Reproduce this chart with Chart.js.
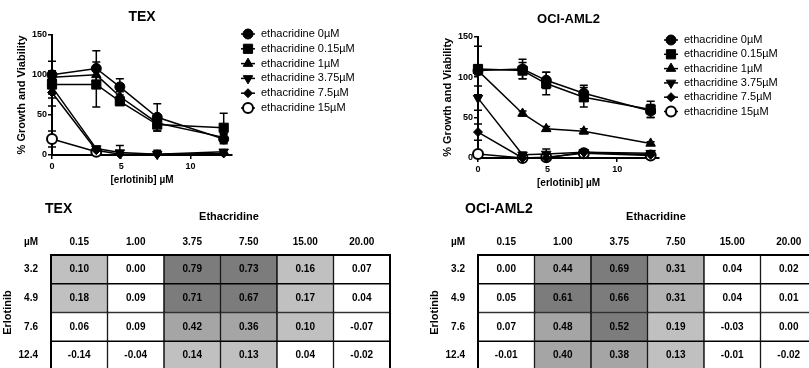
<!DOCTYPE html>
<html>
<head>
<meta charset="utf-8">
<script src="https://cdn.jsdelivr.net/npm/chart.js@4.4.1/dist/chart.umd.min.js"></script>
<style>
  html, body { margin: 0; padding: 0; background: #fff; }
  body { width: 809px; height: 368px; overflow: hidden; position: relative; }
  canvas { position: absolute; }
</style>
</head>
<body>
<canvas id="texLine" width="426" height="190" style="left:0;top:0"></canvas>
<canvas id="ociLine" width="383" height="190" style="left:426px;top:3px"></canvas>
<canvas id="texGrid" width="426" height="185" style="left:0;top:190px"></canvas>
<canvas id="ociGrid" width="405" height="185" style="left:427px;top:190px"></canvas>
<script>
const FONT = '"Liberation Sans", Arial, Helvetica, sans-serif';
Chart.defaults.font.family = FONT;
Chart.defaults.color = '#000';

// erlotinib doses (x) and tick labels
const erlotinib = [0, 3.2, 4.9, 7.6, 12.4];
const xTicks = [0, 5, 10];
const yTicks = [0, 50, 100, 150];
const ethLabels = ['ethacridine 0µM', 'ethacridine 0.15µM', 'ethacridine 1µM',
  'ethacridine 3.75µM', 'ethacridine 7.5µM', 'ethacridine 15µM'];

// TEX: % growth and viability, mean and error
const tex0 = [100, 108, 85, 47, 20];
const tex015 = [88, 88, 67, 38, 34];
const tex1 = [97, 100, 73, 40, 22];
const tex375 = [85, 8, 3, 1, 4];
const tex75 = [78, 6, 1, 1, 2];
const tex15 = [20, 4, null, null, null];
const tex0Err = [17, 22, 10, 17, 6];
const tex015Err = [12, 28, 5, 8, 18];
const tex1Err = [8, 8, 6, 6, 5];
const tex375Err = [14, 3, 9, 2, 2];
const tex75Err = [17, 2, 2, 5, 1];
const tex15Err = [10, 2, 0, 0, 0];

// OCI-AML2
const oci0 = [108, 110, 96, 80, 58];
const oci015 = [110, 108, 92, 75, 60];
const oci1 = [108, 55, 36, 33, 18];
const oci375 = [74, 4, 5, 7, 6];
const oci75 = [32, 0, 0, 7, 4];
const oci15 = [5, 0, 1, 6, 3];
const oci0Err = [30, 12, 10, 10, 8];
const oci015Err = [5, 10, 14, 12, 10];
const oci1Err = [5, 3, 3, 3, 2];
const oci375Err = [15, 3, 6, 3, 2];
const oci75Err = [10, 2, 2, 3, 2];
const oci15Err = [3, 1, 1, 2, 1];

// combination index tables
const ethDoses = ['0.15', '1.00', '3.75', '7.50', '15.00', '20.00'];
const erlDoses = ['3.2', '4.9', '7.6', '12.4'];
const texCI32 = [0.10, 0.00, 0.79, 0.73, 0.16, 0.07];
const texCI49 = [0.18, 0.09, 0.71, 0.67, 0.17, 0.04];
const texCI76 = [0.06, 0.09, 0.42, 0.36, 0.10, -0.07];
const texCI124 = [-0.14, -0.04, 0.14, 0.13, 0.04, -0.02];
const ociCI32 = [0.00, 0.44, 0.69, 0.31, 0.04, 0.02];
const ociCI49 = [0.05, 0.61, 0.66, 0.31, 0.04, 0.01];
const ociCI76 = [0.07, 0.48, 0.52, 0.19, -0.03, 0.00];
const ociCI124 = [-0.01, 0.40, 0.38, 0.13, -0.01, -0.02];

const markers = [
  { pointStyle: 'circle', radius: 5, rotation: 0, fill: '#000' },
  { pointStyle: 'rect', radius: 6.5, rotation: 0, fill: '#000' },
  { pointStyle: 'triangle', radius: 5.5, rotation: 0, fill: '#000' },
  { pointStyle: 'triangle', radius: 5.5, rotation: 180, fill: '#000' },
  { pointStyle: 'rectRot', radius: 4.5, rotation: 0, fill: '#000' },
  { pointStyle: 'circle', radius: 5, rotation: 0, fill: '#fff' }
];

const errorBars = {
  id: 'errorBars',
  beforeDatasetsDraw(chart) {
    const { ctx, scales: { x, y } } = chart;
    ctx.save();
    ctx.strokeStyle = '#000';
    ctx.lineWidth = 1.5;
    chart.data.datasets.forEach(ds => {
      ds.data.forEach((p, i) => {
        const e = ds.errors[i];
        if (p.y == null || !e) return;
        const px = x.getPixelForValue(p.x);
        const top = y.getPixelForValue(p.y + e);
        const bot = y.getPixelForValue(Math.max(p.y - e, 0));
        ctx.beginPath();
        ctx.moveTo(px, top); ctx.lineTo(px, bot);
        ctx.moveTo(px - 4, top); ctx.lineTo(px + 4, top);
        if (p.y - e > 0) { ctx.moveTo(px - 4, bot); ctx.lineTo(px + 4, bot); }
        ctx.stroke();
      });
    });
    ctx.restore();
  }
};

const sideLegend = {
  id: 'sideLegend',
  afterDraw(chart, args, opts) {
    const ctx = chart.ctx;
    ctx.save();
    chart.data.datasets.forEach((ds, i) => {
      const x = opts.x, y = opts.y + i * opts.gap;
      ctx.strokeStyle = '#000';
      ctx.lineWidth = 1.5;
      ctx.beginPath(); ctx.moveTo(x - 7, y); ctx.lineTo(x + 7, y); ctx.stroke();
      ctx.fillStyle = ds.pointBackgroundColor;
      ctx.lineWidth = ds.pointBorderWidth;
      Chart.helpers.drawPoint(ctx, {
        pointStyle: ds.pointStyle, rotation: ds.pointRotation,
        radius: ds.pointRadius, borderWidth: ds.pointBorderWidth
      }, x, y);
      ctx.fillStyle = '#000';
      ctx.font = '11px ' + FONT;
      ctx.textAlign = 'left';
      ctx.textBaseline = 'middle';
      ctx.fillText(ds.label, x + 13, y);
    });
    ctx.restore();
  }
};

function lineChart(id, title, titleSize, means, errs, padRight, legend) {
  const axis = (extra) => Object.assign({
    grid: { drawOnChartArea: false, drawTicks: true, tickLength: 4, color: '#000', lineWidth: 1.5 },
    border: { color: '#000', width: 2 }
  }, extra);
  new Chart(document.getElementById(id), {
    type: 'line',
    data: {
      datasets: means.map((m, s) => ({
        label: ethLabels[s],
        data: m.map((v, i) => ({ x: erlotinib[i], y: v })),
        errors: errs[s],
        borderColor: '#000',
        borderWidth: 1.5,
        tension: 0,
        clip: false,
        pointStyle: markers[s].pointStyle,
        pointRotation: markers[s].rotation,
        pointRadius: markers[s].radius,
        pointBackgroundColor: markers[s].fill,
        pointBorderColor: '#000',
        pointBorderWidth: s === 5 ? 2 : 1
      }))
    },
    options: {
      responsive: false,
      animation: false,
      layout: { padding: { left: 0, right: padRight, top: 0, bottom: 0 } },
      plugins: {
        legend: { display: false },
        tooltip: { enabled: false },
        title: {
          display: true, text: title, fullSize: false, color: '#000',
          font: { size: titleSize, weight: 'bold' }, padding: { top: 9, bottom: 9 }
        },
        sideLegend: legend
      },
      scales: {
        x: axis({
          type: 'linear', min: 0, max: 13,
          afterBuildTicks: s => { s.ticks = xTicks.map(v => ({ value: v })); },
          ticks: { color: '#000', font: { size: 9, weight: 'bold' }, padding: 2, maxRotation: 0 },
          title: { display: true, text: '[erlotinib] µM', color: '#000',
            font: { size: 10, weight: 'bold' }, padding: { top: 0, bottom: 4 } },
          afterFit: s => { s.height = 35; }
        }),
        y: axis({
          type: 'linear', min: 0, max: 150,
          afterBuildTicks: s => { s.ticks = yTicks.map(v => ({ value: v })); },
          ticks: { color: '#000', font: { size: 9, weight: 'bold' }, padding: 1 },
          title: { display: true, text: '% Growth and Viability', color: '#000',
            font: { size: 11, weight: 'bold' }, padding: { top: 15, bottom: 0 } },
          afterFit: s => { s.width = 52; }
        })
      }
    },
    plugins: [errorBars, sideLegend]
  });
}

function shade(v) {
  if (v >= 0.5) return '#7c7c7c';
  if (v >= 0.35) return '#a5a5a5';
  if (v >= 0.25) return '#b3b3b3';
  if (v >= 0.1) return '#c0c0c0';
  return '#ffffff';
}

const gridText = {
  id: 'gridText',
  afterDraw(chart, args, opts) {
    const { ctx, chartArea } = chart;
    ctx.save();
    ctx.fillStyle = '#000';
    ctx.textBaseline = 'middle';
    ctx.textAlign = 'center';
    ctx.font = 'bold 10px ' + FONT;
    chart.data.datasets.forEach((ds, di) => {
      chart.getDatasetMeta(di).data.forEach((bar, i) => {
        const p = bar.getProps(['x', 'y', 'base'], true);
        ctx.fillText(ds.values[i].toFixed(2), p.x, (p.y + p.base) / 2);
      });
    });
    ctx.lineWidth = 2;
    ctx.strokeStyle = '#000';
    ctx.strokeRect(chartArea.left, chartArea.top, chartArea.right - chartArea.left, chartArea.bottom - chartArea.top);
    ctx.font = 'bold 11px ' + FONT;
    ctx.fillText('Ethacridine', chartArea.left + 178, 27);
    ctx.textAlign = 'left';
    ctx.font = 'bold 14px ' + FONT;
    ctx.fillText(opts.title, opts.titleX, 19);
    ctx.textAlign = 'right';
    ctx.font = 'bold 10px ' + FONT;
    ctx.fillText('µM', chart.scales.y.right - 13, 52);
    ctx.restore();
  }
};

function gridChart(id, title, titleX, rows, padRight) {
  new Chart(document.getElementById(id), {
    type: 'bar',
    data: {
      labels: ethDoses,
      datasets: rows.map((vals, r) => ({
        label: erlDoses[r],
        data: vals.map(() => 1),
        values: vals,
        backgroundColor: vals.map(shade),
        borderColor: '#000',
        borderWidth: 1,
        borderSkipped: false,
        barPercentage: 1,
        categoryPercentage: 1
      }))
    },
    options: {
      responsive: false,
      animation: false,
      layout: { padding: { left: 0, right: padRight, top: 0, bottom: 5 } },
      plugins: {
        legend: { display: false },
        tooltip: { enabled: false },
        gridText: { title: title, titleX: titleX }
      },
      scales: {
        x: {
          position: 'top', stacked: true,
          grid: { display: false, drawTicks: false }, border: { display: false },
          ticks: { color: '#000', font: { size: 10, weight: 'bold' }, padding: 7, maxRotation: 0 },
          afterFit: s => { s.height = 65; }
        },
        y: {
          min: 0, max: 4, reverse: true, stacked: true,
          grid: { display: false, drawTicks: false }, border: { display: false },
          afterBuildTicks: s => { s.ticks = erlDoses.map((d, i) => ({ value: i + 0.5 })); },
          ticks: { color: '#000', font: { size: 10, weight: 'bold' }, padding: 13, autoSkip: false,
            callback: (v, i) => erlDoses[i] },
          title: { display: true, text: 'Erlotinib', color: '#000',
            font: { size: 11, weight: 'bold' }, padding: { top: 1, bottom: 0 } },
          afterFit: s => { s.width = 51; s.paddingTop = 0; s.paddingBottom = 0; }
        }
      }
    },
    plugins: [gridText]
  });
}

lineChart('texLine', 'TEX', 14,
  [tex0, tex015, tex1, tex375, tex75, tex15],
  [tex0Err, tex015Err, tex1Err, tex375Err, tex75Err, tex15Err],
  194, { x: 248, y: 34, gap: 14.8 });
lineChart('ociLine', 'OCI-AML2', 13,
  [oci0, oci015, oci1, oci375, oci75, oci15],
  [oci0Err, oci015Err, oci1Err, oci375Err, oci75Err, oci15Err],
  150, { x: 245, y: 37, gap: 14.3 });
gridChart('texGrid', 'TEX', 45, [texCI32, texCI49, texCI76, texCI124], 36);
gridChart('ociGrid', 'OCI-AML2', 38, [ociCI32, ociCI49, ociCI76, ociCI124], 15);
</script>
</body>
</html>
